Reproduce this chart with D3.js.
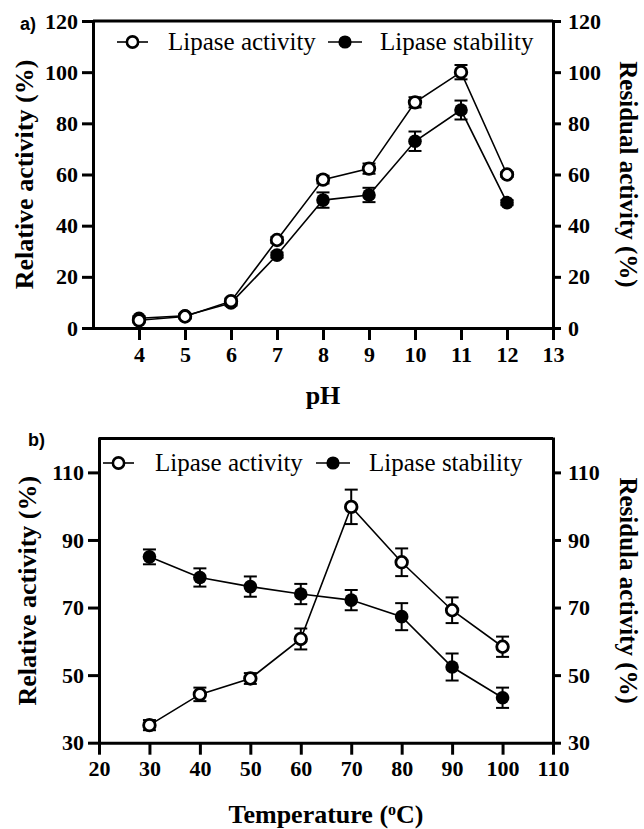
<!DOCTYPE html>
<html>
<head>
<meta charset="utf-8">
<script src="https://cdn.jsdelivr.net/npm/d3@7"></script>
<style>
  html, body { margin: 0; padding: 0; background: #fff; }
  svg { display: block; }
</style>
</head>
<body>
<svg id="chart" width="644" height="829"></svg>
<script>
// ---- Panel a: pH ----
const phValues = [4, 5, 6, 7, 8, 9, 10, 11, 12];
const phActivity = [3, 4.5, 10.5, 34.4, 58, 62.3, 88.2, 100, 60];
const phActivityErr = [0.8, 0.8, 1, 1.2, 1.5, 2, 2, 2.8, 1];
const phStability = [3.8, 4.8, 9.8, 28.5, 50, 52, 73, 85.2, 49];
const phStabilityErr = [0.8, 0.8, 1, 1, 3, 2.8, 3.8, 3.7, 1];
const phXTicks = [4, 5, 6, 7, 8, 9, 10, 11, 12, 13];
const phYTicks = [0, 20, 40, 60, 80, 100, 120];

// ---- Panel b: Temperature ----
const tempValues = [30, 40, 50, 60, 70, 80, 90, 100];
const tempActivity = [35.2, 44.3, 49, 60.7, 99.8, 83.4, 69.2, 58.4];
const tempActivityErr = [1.5, 2, 1.6, 3.1, 5.1, 4.1, 3.8, 3];
const tempStability = [85, 78.9, 76.2, 74, 72.2, 67.3, 52.4, 43.3];
const tempStabilityErr = [2.2, 2.7, 3, 3, 3, 4, 4, 3];
const tempXTicks = [20, 30, 40, 50, 60, 70, 80, 90, 100, 110];
const tempYTicks = [30, 50, 70, 90, 110];

const seriesNames = ["Lipase activity", "Lipase stability"];

const svg = d3.select("#chart");
const SERIF = "'Liberation Serif', 'Times New Roman', serif";

function panel(cfg) {
  const g = svg.append("g");
  const x = d3.scaleLinear().domain(cfg.xDomain).range([cfg.left, cfg.right]);
  const y = d3.scaleLinear().domain(cfg.yDomain).range([cfg.bottom, cfg.top]);

  // top frame line
  g.append("line")
    .attr("x1", cfg.left).attr("x2", cfg.right)
    .attr("y1", cfg.top).attr("y2", cfg.top)
    .attr("stroke", "#000").attr("stroke-width", 3);

  // x axis
  const xa = g.append("g").attr("transform", `translate(0,${cfg.bottom})`)
    .call(d3.axisBottom(x).tickValues(cfg.xTicks).tickSizeInner(12).tickSizeOuter(0).tickPadding(6).tickFormat(d3.format("d")));
  // left axis
  const ya = g.append("g").attr("transform", `translate(${cfg.left},0)`)
    .call(d3.axisLeft(y).tickValues(cfg.yTicks).tickSizeInner(11).tickSizeOuter(0).tickPadding(4).tickFormat(d3.format("d")));
  // right axis
  const yr = g.append("g").attr("transform", `translate(${cfg.right},0)`)
    .call(d3.axisRight(y).tickValues(cfg.yTicks).tickSizeInner(8).tickSizeOuter(0).tickPadding(7).tickFormat(d3.format("d")));

  [xa, ya, yr].forEach(a => {
    a.selectAll("path.domain").attr("stroke", "#000").attr("stroke-width", 3).attr("stroke-linecap", "square");
    a.selectAll(".tick line").attr("stroke", "#000").attr("stroke-width", 3);
    a.selectAll(".tick text").attr("fill", "#000")
      .style("font-family", SERIF).style("font-weight", "bold").style("font-size", "22px");
  });

  // series
  const series = [
    { vals: cfg.a, err: cfg.aErr, open: true },
    { vals: cfg.s, err: cfg.sErr, open: false }
  ];
  const line = d3.line().x(d => x(d[0])).y(d => y(d[1]));
  // draw stability first, then activity on top
  [series[1], series[0]].forEach(s => {
    const pts = cfg.xs.map((v, i) => [v, s.vals[i], s.err[i]]);
    g.append("path").datum(pts).attr("d", line)
      .attr("fill", "none").attr("stroke", "#000").attr("stroke-width", 1.6);
    const eb = g.append("g");
    pts.forEach(p => {
      const cx = x(p[0]), y1 = y(p[1] + p[2]), y2 = y(p[1] - p[2]);
      eb.append("line").attr("x1", cx).attr("x2", cx).attr("y1", y1).attr("y2", y2)
        .attr("stroke", "#000").attr("stroke-width", 2);
      [y1, y2].forEach(yy => eb.append("line").attr("x1", cx - 6.5).attr("x2", cx + 6.5)
        .attr("y1", yy).attr("y2", yy).attr("stroke", "#000").attr("stroke-width", 2));
    });
    g.append("g").selectAll("circle").data(pts).join("circle")
      .attr("cx", d => x(d[0])).attr("cy", d => y(d[1]))
      .attr("r", s.open ? 5.8 : 6.8)
      .attr("fill", s.open ? "#fff" : "#000")
      .attr("stroke", "#000").attr("stroke-width", s.open ? 2.8 : 0);
  });

  // legend
  cfg.legend.forEach((L, i) => {
    const open = i === 0;
    g.append("line").attr("x1", L.x1).attr("x2", L.x2).attr("y1", cfg.legY).attr("y2", cfg.legY)
      .attr("stroke", "#000").attr("stroke-width", 1.6);
    g.append("circle").attr("cx", (L.x1 + L.x2) / 2).attr("cy", cfg.legY)
      .attr("r", open ? 5.6 : 6.6).attr("fill", open ? "#fff" : "#000")
      .attr("stroke", "#000").attr("stroke-width", open ? 2.6 : 0);
    g.append("text").attr("x", L.tx).attr("y", cfg.legY + 8)
      .style("font-family", SERIF).style("font-size", "25px").attr("fill", "#000")
      .text(seriesNames[i]);
  });

  // panel label
  g.append("text").attr("x", cfg.labX).attr("y", cfg.labY)
    .style("font-family", "'Liberation Sans', Arial, sans-serif").style("font-weight", "bold").style("font-size", "18px")
    .text(cfg.label);

  // axis titles
  const midY = (cfg.top + cfg.bottom) / 2;
  g.append("text").attr("transform", `translate(${cfg.lTitleX},${midY}) rotate(-90)`)
    .attr("text-anchor", "middle").attr("dominant-baseline", "central")
    .style("font-family", SERIF).style("font-weight", "bold").style("font-size", "26px")
    .text(cfg.yTitleL);
  g.append("text").attr("transform", `translate(${cfg.rTitleX},${midY}) rotate(90)`)
    .attr("text-anchor", "middle").attr("dominant-baseline", "central")
    .style("font-family", SERIF).style("font-weight", "bold").style("font-size", "25px")
    .text(cfg.yTitleR);
  const xt = g.append("text").attr("x", (cfg.left + cfg.right) / 2).attr("y", cfg.xTitleY)
    .attr("text-anchor", "middle")
    .style("font-family", SERIF).style("font-weight", "bold").style("font-size", "26px");
  cfg.xTitle.forEach(part => {
    const ts = xt.append("tspan").text(part.t);
    if (part.sup) ts.attr("baseline-shift", "super").style("font-size", "16px");
  });
}

panel({
  xDomain: [3, 13], yDomain: [0, 120], left: 93, right: 553, top: 21, bottom: 328,
  xTicks: phXTicks, yTicks: phYTicks, xs: phValues,
  a: phActivity, aErr: phActivityErr, s: phStability, sErr: phStabilityErr,
  legY: 42, legend: [{ x1: 117, x2: 148, tx: 168 }, { x1: 328, x2: 362, tx: 380 }],
  label: "a)", labX: 20, labY: 30,
  lTitleX: 24, rTitleX: 628, xTitleY: 404,
  yTitleL: "Relative activity (%)", yTitleR: "Residual activity (%)",
  xTitle: [{ t: "pH" }]
});

panel({
  xDomain: [20, 110], yDomain: [30, 120], left: 99, right: 553, top: 438.6, bottom: 742.7,
  xTicks: tempXTicks, yTicks: tempYTicks, xs: tempValues,
  a: tempActivity, aErr: tempActivityErr, s: tempStability, sErr: tempStabilityErr,
  legY: 463, legend: [{ x1: 103, x2: 134, tx: 155 }, { x1: 316, x2: 350, tx: 369 }],
  label: "b)", labX: 28, labY: 446,
  lTitleX: 27, rTitleX: 628, xTitleY: 823,
  yTitleL: "Relative activity (%)", yTitleR: "Residula activity (%)",
  xTitle: [{ t: "Temperature (" }, { t: "o", sup: true }, { t: "C)" }]
});
</script>
</body>
</html>
